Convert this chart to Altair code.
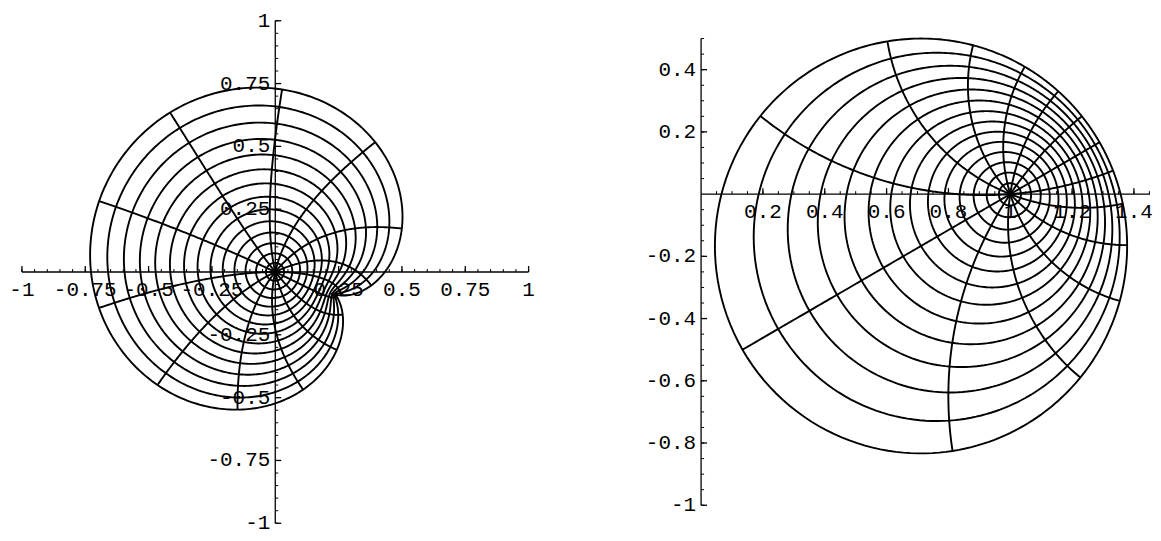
import numpy as np
import pandas as pd
import altair as alt

# ---- polar net plotted in both panels: |z| <= 1/2, 14 circles, 14 rays ----
RHO = 0.5
N_CIRCLES = 14
N_RAYS = 14
radii = [RHO * k / N_CIRCLES for k in range(1, N_CIRCLES + 1)]
ray_angles_deg = [360.0 * j / N_RAYS for j in range(N_RAYS)]
lam_arg_deg = 30.0          # exponent lambda = e^{i*pi/6}

# ---- axis ticks / labels ----
left_xticks = [-1, -0.75, -0.5, -0.25, 0.25, 0.5, 0.75, 1]
left_xlabels = ["-1", "-0.75", "-0.5", "-0.25", "0.25", "0.5", "0.75", "1"]
left_yticks = [1, 0.75, 0.5, 0.25, -0.25, -0.5, -0.75, -1]
left_ylabels = ["1", "0.75", "0.5", "0.25", "-0.25", "-0.5", "-0.75", "-1"]
right_xticks = [0.2, 0.4, 0.6, 0.8, 1, 1.2, 1.4]
right_xlabels = ["0.2", "0.4", "0.6", "0.8", "1", "1.2", "1.4"]
right_yticks = [0.4, 0.2, -0.2, -0.4, -0.6, -0.8, -1]
right_ylabels = ["0.4", "0.2", "-0.2", "-0.4", "-0.6", "-0.8", "-1"]

lam = np.exp(1j * np.deg2rad(lam_arg_deg))


def f_left(z):
    # spirallike function f(z) = z (1 - z)^lambda
    return z * (1 - z) ** lam


def f_right(z):
    # z f'(z) / f(z)
    return 1 - lam * z / (1 - z)


def net(fun):
    rows = []
    cid = 0
    t = np.linspace(0, 2 * np.pi, 421)
    for r in radii:
        w = fun(r * np.exp(1j * t))
        for i, v in enumerate(w):
            rows.append((cid, i, v.real, v.imag))
        cid += 1
    s = np.linspace(0, RHO, 161)
    for a in ray_angles_deg:
        w = fun(s * np.exp(1j * np.deg2rad(a)))
        for i, v in enumerate(w):
            rows.append((cid, i, v.real, v.imag))
        cid += 1
    return pd.DataFrame(rows, columns=["cid", "idx", "x", "y"])


FONT = "Liberation Mono"
FS = 21


def panel(fun, xdom, ydom, w, h, xaxis, yaxis, xticks, xlabels, yticks, ylabels, minor):
    xs = alt.Scale(domain=xdom, nice=False, zero=False)
    ys = alt.Scale(domain=ydom, nice=False, zero=False)
    X = lambda f: alt.X(f, type="quantitative", scale=xs, axis=None)
    Y = lambda f: alt.Y(f, type="quantitative", scale=ys, axis=None)

    curves = alt.Chart(net(fun)).mark_line(color="black", strokeWidth=1.9).encode(
        x=X("x"), y=Y("y"), detail="cid:N", order="idx:Q")

    axes = pd.DataFrame({"x": [xaxis[0], 0], "x2": [xaxis[1], 0],
                         "y": [0, yaxis[0]], "y2": [0, yaxis[1]]})
    axis_lines = alt.Chart(axes).mark_rule(color="black", strokeWidth=1.3).encode(
        x=X("x"), x2="x2", y=Y("y"), y2="y2")

    mx = [v for v in np.round(np.arange(xaxis[0], xaxis[1] + 1e-9, minor), 4) if abs(v) > 1e-9]
    my = [v for v in np.round(np.arange(yaxis[0], yaxis[1] + 1e-9, minor), 4) if abs(v) > 1e-9]
    xt_minor = alt.Chart(pd.DataFrame({"x": mx, "y": 0.0})).mark_rule(
        color="black", strokeWidth=1, y2Offset=-3).encode(x=X("x"), y=Y("y"), y2="y")
    yt_minor = alt.Chart(pd.DataFrame({"x": 0.0, "y": my})).mark_rule(
        color="black", strokeWidth=1, x2Offset=3).encode(x=X("x"), x2="x", y=Y("y"))
    xt = alt.Chart(pd.DataFrame({"x": xticks, "y": 0.0})).mark_rule(
        color="black", strokeWidth=1.3, y2Offset=-6).encode(x=X("x"), y=Y("y"), y2="y")
    yt = alt.Chart(pd.DataFrame({"x": 0.0, "y": yticks})).mark_rule(
        color="black", strokeWidth=1.3, x2Offset=6).encode(x=X("x"), x2="x", y=Y("y"))

    xl = alt.Chart(pd.DataFrame({"x": xticks, "y": 0.0, "t": xlabels})).mark_text(
        font=FONT, fontSize=FS, color="black", baseline="middle", align="center", dy=18
    ).encode(x=X("x"), y=Y("y"), text="t:N")
    yl = alt.Chart(pd.DataFrame({"x": 0.0, "y": yticks, "t": ylabels})).mark_text(
        font=FONT, fontSize=FS, color="black", baseline="middle", align="right", dx=-5
    ).encode(x=X("x"), y=Y("y"), text="t:N")

    return alt.layer(curves, axis_lines, xt_minor, yt_minor, xt, yt, xl, yl).properties(
        width=w, height=h,
        view=alt.ViewBackground(stroke="white", strokeWidth=0, strokeOpacity=0))


left = panel(f_left, [-1.055, 1.071], [-1.036, 1.048], 540, 525,
             (-1, 1), (-1, 1), left_xticks, left_xlabels, left_yticks, left_ylabels, 0.05)
right = panel(f_right, [-0.461, 1.452], [-1.087, 0.596], 593, 525,
              (0, 1.452), (-1, 0.5), right_xticks, right_xlabels, right_yticks, right_ylabels, 0.05)

chart = alt.hconcat(left, right, spacing=12).properties(padding=0).configure_view(
    stroke="white", strokeWidth=0, strokeOpacity=0).configure(background="white")

chart.save("out.html", embed_options={"renderer": "svg", "actions": False})
